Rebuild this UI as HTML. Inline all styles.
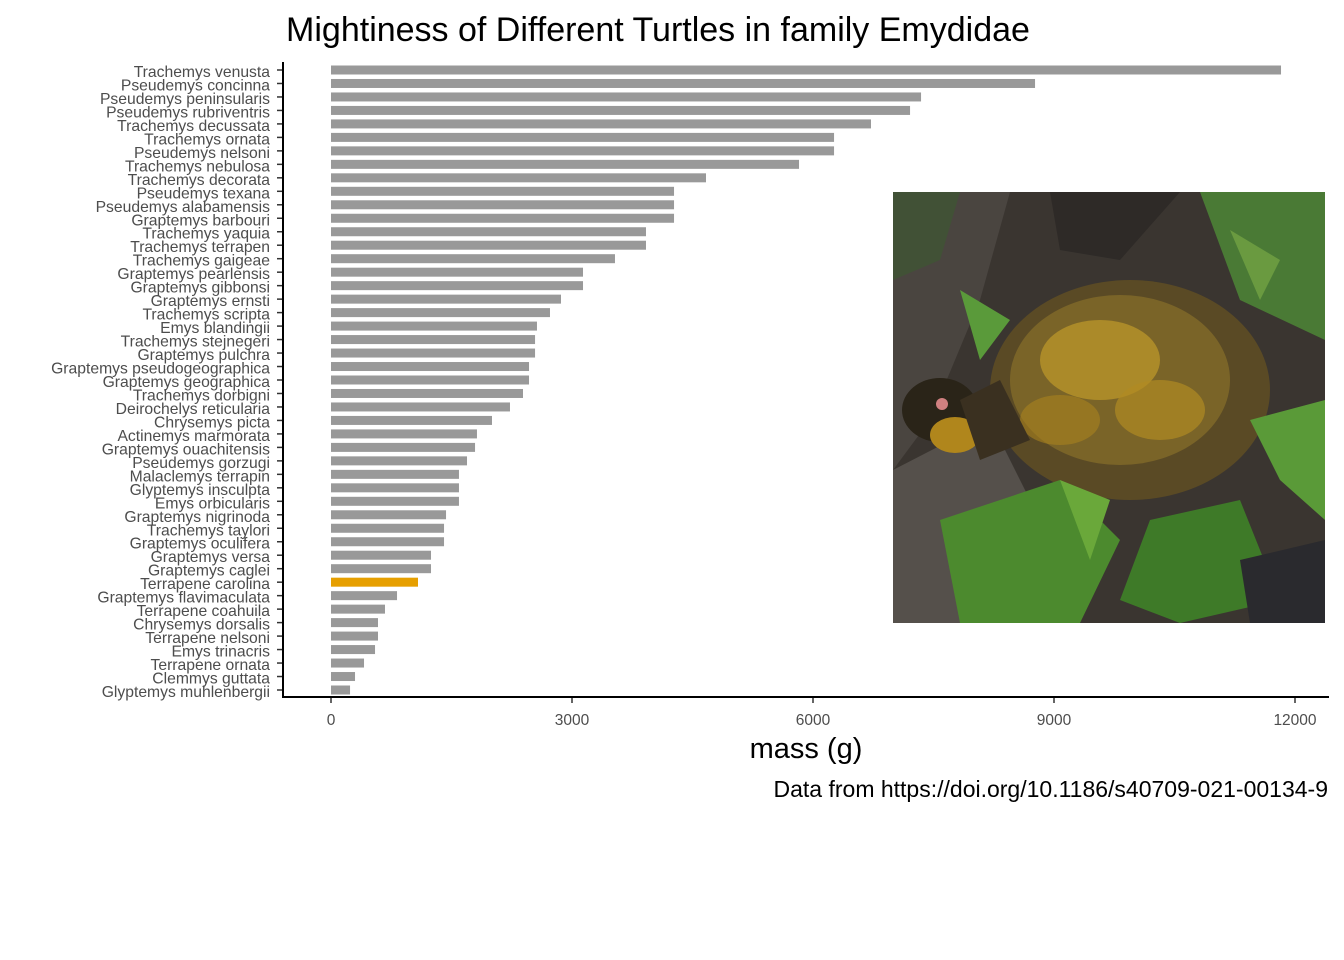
<!DOCTYPE html>
<html><head><meta charset="utf-8"><style>
html,body{margin:0;padding:0;background:#fff}
svg{display:block;font-family:"Liberation Sans",Arial,sans-serif}
</style></head><body>
<svg id="chart" width="1344" height="960" viewBox="0 0 1344 960" xmlns="http://www.w3.org/2000/svg">
<rect width="1344" height="960" fill="#fff"/>
<text x="658" y="41" font-size="34" text-anchor="middle" fill="#000">Mightiness of Different Turtles in family Emydidae</text>
<g id="bars"></g>
<g id="ylabels" font-size="15.7" fill="#4d4d4d" text-anchor="end"></g>
<g id="xticks" font-size="15.5" fill="#4d4d4d" text-anchor="middle"></g>
<line x1="283" y1="62" x2="283" y2="698" stroke="#000" stroke-width="2"/>
<line x1="282" y1="697" x2="1329" y2="697" stroke="#000" stroke-width="2"/>
<g>
<rect x="893" y="192" width="432" height="431" fill="#3a3530"/>
<path d="M893 192 L1010 192 L980 300 L930 420 L893 470 Z" fill="#4a4540"/>
<path d="M1050 192 L1180 192 L1120 260 L1060 250 Z" fill="#2e2a27"/>
<path d="M893 470 L990 420 L1040 520 L1000 623 L893 623 Z" fill="#55504b"/>
<ellipse cx="1130" cy="390" rx="140" ry="110" fill="#5a4a25"/>
<ellipse cx="1120" cy="380" rx="110" ry="85" fill="#7a6428"/>
<ellipse cx="1100" cy="360" rx="60" ry="40" fill="#c09a2a" opacity="0.7"/>
<ellipse cx="1160" cy="410" rx="45" ry="30" fill="#b08a22" opacity="0.7"/>
<ellipse cx="1060" cy="420" rx="40" ry="25" fill="#a8821e" opacity="0.6"/>
<ellipse cx="940" cy="410" rx="38" ry="32" fill="#2a2418"/>
<ellipse cx="955" cy="435" rx="25" ry="18" fill="#b0861c"/>
<circle cx="942" cy="404" r="6" fill="#d08080"/>
<path d="M960 400 L1000 380 L1030 440 L980 460 Z" fill="#3a3020"/>
<path d="M893 192 L960 192 L940 260 L893 280 Z" fill="#3c5a30" opacity="0.6"/>
<path d="M1200 192 L1325 192 L1325 340 L1240 300 Z" fill="#4a7a35"/>
<path d="M1230 230 L1280 260 L1260 300 Z" fill="#6a9a40"/>
<path d="M940 520 L1060 480 L1120 540 L1080 623 L960 623 Z" fill="#4c8a2e"/>
<path d="M1060 480 L1110 500 L1090 560 Z" fill="#6aa83a"/>
<path d="M1150 520 L1240 500 L1280 600 L1180 623 L1120 600 Z" fill="#3e7a28"/>
<path d="M1250 420 L1325 400 L1325 520 L1280 480 Z" fill="#5a9a38"/>
<path d="M1240 560 L1325 540 L1325 623 L1250 623 Z" fill="#2a2a2e"/>
<path d="M960 290 L1010 320 L980 360 Z" fill="#5a9a3a"/>
</g>
<text x="806" y="758" font-size="29" text-anchor="middle" fill="#000">mass (g)</text>
<text x="1328" y="797" font-size="23" text-anchor="end" fill="#000">Data from https://doi.org/10.1186/s40709-021-00134-9</text>
</svg>
<script>
const species = ["Trachemys venusta","Pseudemys concinna","Pseudemys peninsularis","Pseudemys rubriventris","Trachemys decussata","Trachemys ornata","Pseudemys nelsoni","Trachemys nebulosa","Trachemys decorata","Pseudemys texana","Pseudemys alabamensis","Graptemys barbouri","Trachemys yaquia","Trachemys terrapen","Trachemys gaigeae","Graptemys pearlensis","Graptemys gibbonsi","Graptemys ernsti","Trachemys scripta","Emys blandingii","Trachemys stejnegeri","Graptemys pulchra","Graptemys pseudogeographica","Graptemys geographica","Trachemys dorbigni","Deirochelys reticularia","Chrysemys picta","Actinemys marmorata","Graptemys ouachitensis","Pseudemys gorzugi","Malaclemys terrapin","Glyptemys insculpta","Emys orbicularis","Graptemys nigrinoda","Trachemys taylori","Graptemys oculifera","Graptemys versa","Graptemys caglei","Terrapene carolina","Graptemys flavimaculata","Terrapene coahuila","Chrysemys dorsalis","Terrapene nelsoni","Emys trinacris","Terrapene ornata","Clemmys guttata","Glyptemys muhlenbergii"];
const mass = [11826,8764,7345,7208,6722,6262,6262,5826,4668,4270,4270,4270,3921,3921,3535,3137,3137,2863,2726,2564,2540,2540,2465,2465,2390,2228,2004,1817,1793,1693,1593,1593,1593,1432,1407,1407,1245,1245,1083,822,672,585,585,548,411,299,237];
const highlight = "Terrapene carolina";
const xTicks = [0,3000,6000,9000,12000];
const tickLabels = ["0","3000","6000","9000","12000"];
const NS="http://www.w3.org/2000/svg";
const x = v => 331 + v*(964/12000);
const y = i => 70 + i*(620/(species.length-1));
const bars=document.getElementById('bars'), yl=document.getElementById('ylabels'), xt=document.getElementById('xticks');
species.forEach((s,i)=>{
  const r=document.createElementNS(NS,'rect');
  
  
  r.setAttribute('x',x(0)); r.setAttribute('y',y(i)-4.5);
  r.setAttribute('width',x(mass[i])-x(0)); r.setAttribute('height',9);
  r.setAttribute('fill', s===highlight?'#e69f00':'#999999');
  bars.appendChild(r);
  const t=document.createElementNS(NS,'text');
  
  
  t.setAttribute('x',270); t.setAttribute('y',y(i)+7); t.textContent=s;
  yl.appendChild(t);
  const l=document.createElementNS(NS,'line');
  
  
  l.setAttribute('x1',277); l.setAttribute('x2',283); l.setAttribute('y1',y(i)); l.setAttribute('y2',y(i));
  l.setAttribute('stroke','#333'); l.setAttribute('stroke-width',1.5);
  yl.appendChild(l);
});
xTicks.forEach((v,i)=>{
  const l=document.createElementNS(NS,'line');
  
  
  l.setAttribute('x1',x(v)); l.setAttribute('x2',x(v)); l.setAttribute('y1',697); l.setAttribute('y2',703);
  l.setAttribute('stroke','#333'); l.setAttribute('stroke-width',1.5);
  xt.appendChild(l);
  const t=document.createElementNS(NS,'text');
  
  
  t.setAttribute('x',x(v)); t.setAttribute('y',725); t.textContent=tickLabels[i];
  xt.appendChild(t);
});
</script>
</body></html>
